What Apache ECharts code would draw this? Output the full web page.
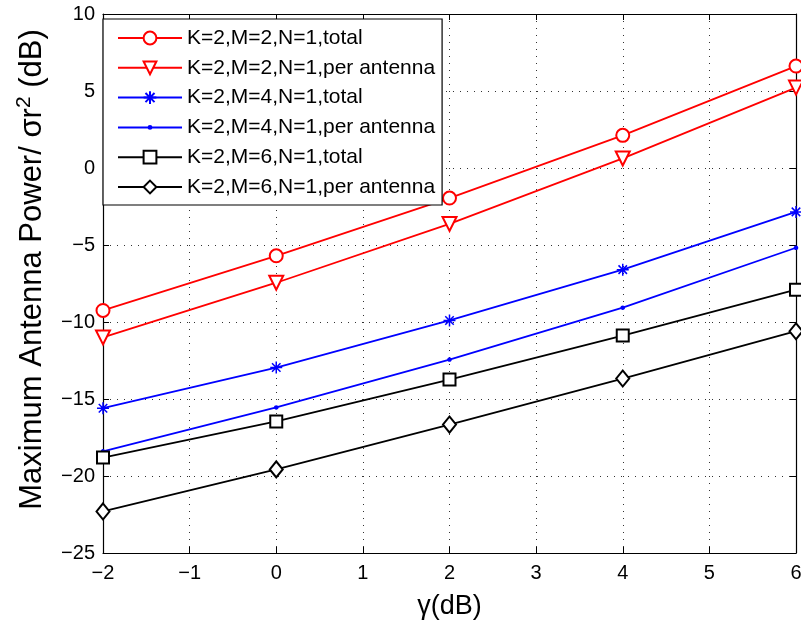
<!DOCTYPE html>
<html><head><meta charset="utf-8">
<script src="https://cdn.jsdelivr.net/npm/echarts@6/dist/echarts.min.js"></script>
<style>html,body{margin:0;padding:0;background:#fff}#c{width:801px;height:622px}</style>
</head><body><div id="c"></div>
<script>
const gammaDb = [-2, 0, 2, 4, 6];
const k2m2Total = [-9.25, -5.7, -1.95, 2.12, 6.62];
const k2m2PerAnt = [-11.0, -7.45, -3.63, 0.62, 5.22];
const k2m4Total = [-15.6, -12.96, -9.9, -6.6, -2.85];
const k2m4PerAnt = [-18.4, -15.55, -12.44, -9.07, -5.18];
const k2m6Total = [-18.8, -16.46, -13.74, -10.88, -7.9];
const k2m6PerAnt = [-22.3, -19.57, -16.66, -13.67, -10.6];
const seriesNames = ['K=2,M=2,N=1,total','K=2,M=2,N=1,per antenna','K=2,M=4,N=1,total','K=2,M=4,N=1,per antenna','K=2,M=6,N=1,total','K=2,M=6,N=1,per antenna'];

const FONT = '"Liberation Sans", Arial, sans-serif';
const fmt = v => String(v).replace('-', '\u2212');
const pairs = ys => gammaDb.map((x, i) => [x, ys[i]]);
const star = 'path://M0,-10L0,10M-10,0L10,0M-7.07,-7.07L7.07,7.07M-7.07,7.07L7.07,-7.07';
const dot = 'path://M-10,-10M10,10M-2.2,0A2.2,2.2,0,1,0,2.2,0A2.2,2.2,0,1,0,-2.2,0Z';

function mk(name, ys, color, symbol, size, extra) {
  return Object.assign({
    name, type: 'line', data: pairs(ys), symbol, symbolSize: size,
    lineStyle: { color, width: 1.8 },
    itemStyle: { color, borderColor: color, borderWidth: 1.5 },
    showAllSymbol: true, animation: false, z: 3
  }, extra || {});
}

const chart = echarts.init(document.getElementById('c'), null, { renderer: 'canvas' });
const tickStyle = { show: true, inside: true, length: 6, lineStyle: { color: '#000', width: 1 } };
const axLine = { show: true, onZero: false, lineStyle: { color: '#000', width: 1.2 } };
chart.setOption({
  animation: false,
  backgroundColor: '#fff',
  grid: { left: 103, right: 5, top: 14, bottom: 69, show: false, containLabel: false, outerBoundsMode: 'none' },
  legend: {
    left: 103, top: 19, orient: 'vertical', itemWidth: 64, itemHeight: 16, itemGap: 8.8,
    padding: [8.5, 7, 7.5, 14], borderColor: '#000', borderWidth: 1.2, backgroundColor: '#fff',
    textStyle: { fontFamily: FONT, fontSize: 21, color: '#000', lineHeight: 21 }, data: seriesNames, z: 10
  },
  xAxis: [{
    type: 'value', min: -2, max: 6, interval: 1, position: 'bottom',
    name: '\u03b3(dB)', nameLocation: 'middle', nameGap: 40,
    nameTextStyle: { fontFamily: FONT, fontSize: 27, color: '#000' },
    axisLine: axLine,
    axisTick: tickStyle,
    axisLabel: { formatter: fmt, fontFamily: FONT, fontSize: 20, color: '#000', margin: 10 },
    splitLine: { show: true, lineStyle: { color: '#333', type: [1, 6], width: 1 } }
  }, {
    type: 'value', min: -2, max: 6, interval: 1, position: 'top',
    axisLine: axLine, axisTick: tickStyle,
    axisLabel: { show: false }, splitLine: { show: false }
  }],
  yAxis: [{
    type: 'value', min: -25, max: 10, interval: 5, position: 'left',
    name: 'Maximum Antenna Power/ \u03c3r{sup|2} (dB)', nameLocation: 'middle', nameGap: 52,
    nameTextStyle: { fontFamily: FONT, fontSize: 31, color: '#000', padding: [0, 0, 0, 28],
      rich: { sup: { fontFamily: FONT, fontSize: 21, color: '#000', verticalAlign: 'top', padding: [0, 0, 16, 0] } } },
    axisLine: axLine,
    axisTick: tickStyle,
    axisLabel: { formatter: fmt, fontFamily: FONT, fontSize: 20, color: '#000', margin: 8 },
    splitLine: { show: true, lineStyle: { color: '#333', type: [1, 6], width: 1 } }
  }, {
    type: 'value', min: -25, max: 10, interval: 5, position: 'right',
    axisLine: axLine, axisTick: tickStyle,
    axisLabel: { show: false }, splitLine: { show: false }
  }],
  series: [
    mk(seriesNames[0], k2m2Total, '#ff0000', 'emptyCircle', 13),
    mk(seriesNames[1], k2m2PerAnt, '#ff0000', 'emptyTriangle', 14, { symbolRotate: 180 }),
    mk(seriesNames[2], k2m4Total, '#0000ff', star, 12),
    mk(seriesNames[3], k2m4PerAnt, '#0000ff', dot, 14),
    mk(seriesNames[4], k2m6Total, '#000000', 'emptyRect', 12),
    mk(seriesNames[5], k2m6PerAnt, '#000000', 'emptyDiamond', [13, 16])
  ]
});
</script></body></html>
